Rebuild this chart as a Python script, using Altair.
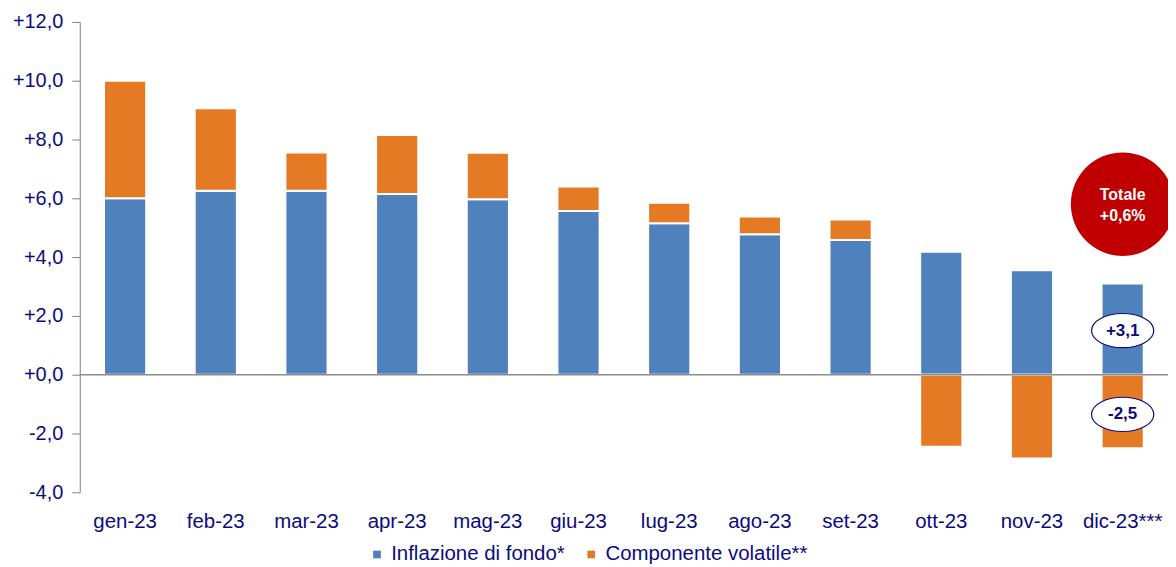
import altair as alt
import pandas as pd

months = ["gen-23", "feb-23", "mar-23", "apr-23", "mag-23", "giu-23",
          "lug-23", "ago-23", "set-23", "ott-23", "nov-23", "dic-23***"]
core = [6.0, 6.26, 6.26, 6.15, 5.97, 5.57, 5.15, 4.78, 4.58, 4.18, 3.55, 3.1]
volatile = [4.0, 2.8, 1.3, 2.0, 1.58, 0.83, 0.7, 0.6, 0.7, -2.45, -2.85, -2.5]
series_names = ["Inflazione di fondo*", "Componente volatile**"]
series_colors = ["#4F81BD", "#E57A25"]
total_label = ["Totale", "+0,6%"]
bubble_y = [6.1, 5.4]
pill_text = ["+3,1", "-2,5"]
pill_y = [1.5, -1.35]

NAVY = "#0B0B80"
FONT = "Liberation Sans"

rows = []
for m, c, v in zip(months, core, volatile):
    rows.append({"month": m, "series": series_names[0], "y0": 0.0, "y1": c})
    if v >= 0:
        rows.append({"month": m, "series": series_names[1], "y0": c, "y1": c + v})
    else:
        rows.append({"month": m, "series": series_names[1], "y0": 0.0, "y1": v})
bars_df = pd.DataFrame(rows)

x_enc = alt.X("month:N", sort=months, title=None,
              scale=alt.Scale(paddingInner=0.535, paddingOuter=0.2675, round=False),
              axis=alt.Axis(domain=False, ticks=False, labelFontSize=20.5, labelColor=NAVY,
                            labelFont=FONT, labelAngle=0, labelPadding=19))
y_scale = alt.Scale(domain=[-4, 12], nice=False, zero=False)

bars = alt.Chart(bars_df).mark_bar(stroke="white", strokeWidth=2).encode(
    x=x_enc,
    y=alt.Y("y0:Q", scale=y_scale, title=None,
            axis=alt.Axis(values=list(range(-4, 13, 2)), grid=False, domainColor="#808080",
                          tickColor="#808080", tickSize=8, labelFontSize=20, labelColor=NAVY,
                          labelFont=FONT, labelPadding=9,
                          labelExpr="(datum.value >= 0 ? '+' : '-') + replace(format(abs(datum.value), '.1f'), '.', ',')")),
    y2="y1:Q",
    color=alt.Color("series:N", sort=series_names,
                    scale=alt.Scale(domain=series_names, range=series_colors),
                    legend=alt.Legend(title=None, orient="none", direction="horizontal",
                                      legendX=288, legendY=524, symbolType="square",
                                      symbolSize=60, labelFontSize=20.5, labelColor=NAVY,
                                      labelFont=FONT, columnPadding=16, symbolStrokeWidth=0,
                                      labelLimit=300)),
)

zero_df = pd.DataFrame({"v": [0.0]})
zero_line = alt.Chart(zero_df).mark_rule(color="#8C8C8C", strokeWidth=1.5).encode(y=alt.Y("v:Q", scale=y_scale))

last = months[-1]
bubble = alt.Chart(pd.DataFrame({"month": [last], "v": [5.8]})).mark_circle(
    size=10800, color="#C00000", opacity=1).encode(
    x=alt.X("month:N", sort=months), y=alt.Y("v:Q", scale=y_scale))
bubble_text = alt.Chart(pd.DataFrame({"month": [last, last], "v": bubble_y, "t": total_label})).mark_text(
    color="white", fontWeight="bold", fontSize=16, font=FONT).encode(
    x=alt.X("month:N", sort=months), y=alt.Y("v:Q", scale=y_scale), text="t:N")

pill_df = pd.DataFrame({"month": [last, last], "v": pill_y, "t": pill_text})
ellipse_path = "M-1,0A1,0.55 0 1,0 1,0A1,0.55 0 1,0 -1,0Z"
pills = alt.Chart(pill_df).mark_point(
    shape=ellipse_path, size=3900, filled=True, fill="white", stroke=NAVY, strokeWidth=1.2, opacity=1).encode(
    x=alt.X("month:N", sort=months), y=alt.Y("v:Q", scale=y_scale))
pill_text_m = alt.Chart(pill_df).mark_text(color=NAVY, fontWeight="bold", fontSize=17, font=FONT).encode(
    x=alt.X("month:N", sort=months), y=alt.Y("v:Q", scale=y_scale), text="t:N")

chart = alt.layer(bars, zero_line, bubble, bubble_text, pills, pill_text_m).properties(
    width=1092, height=472,
    background="white",
    autosize=alt.AutoSizeParams(type="none"),
    padding={"left": 72, "top": 13, "right": 0, "bottom": 74},
).configure_view(stroke=None)

chart.save("out.html", embed_options={"renderer": "svg", "actions": False})
